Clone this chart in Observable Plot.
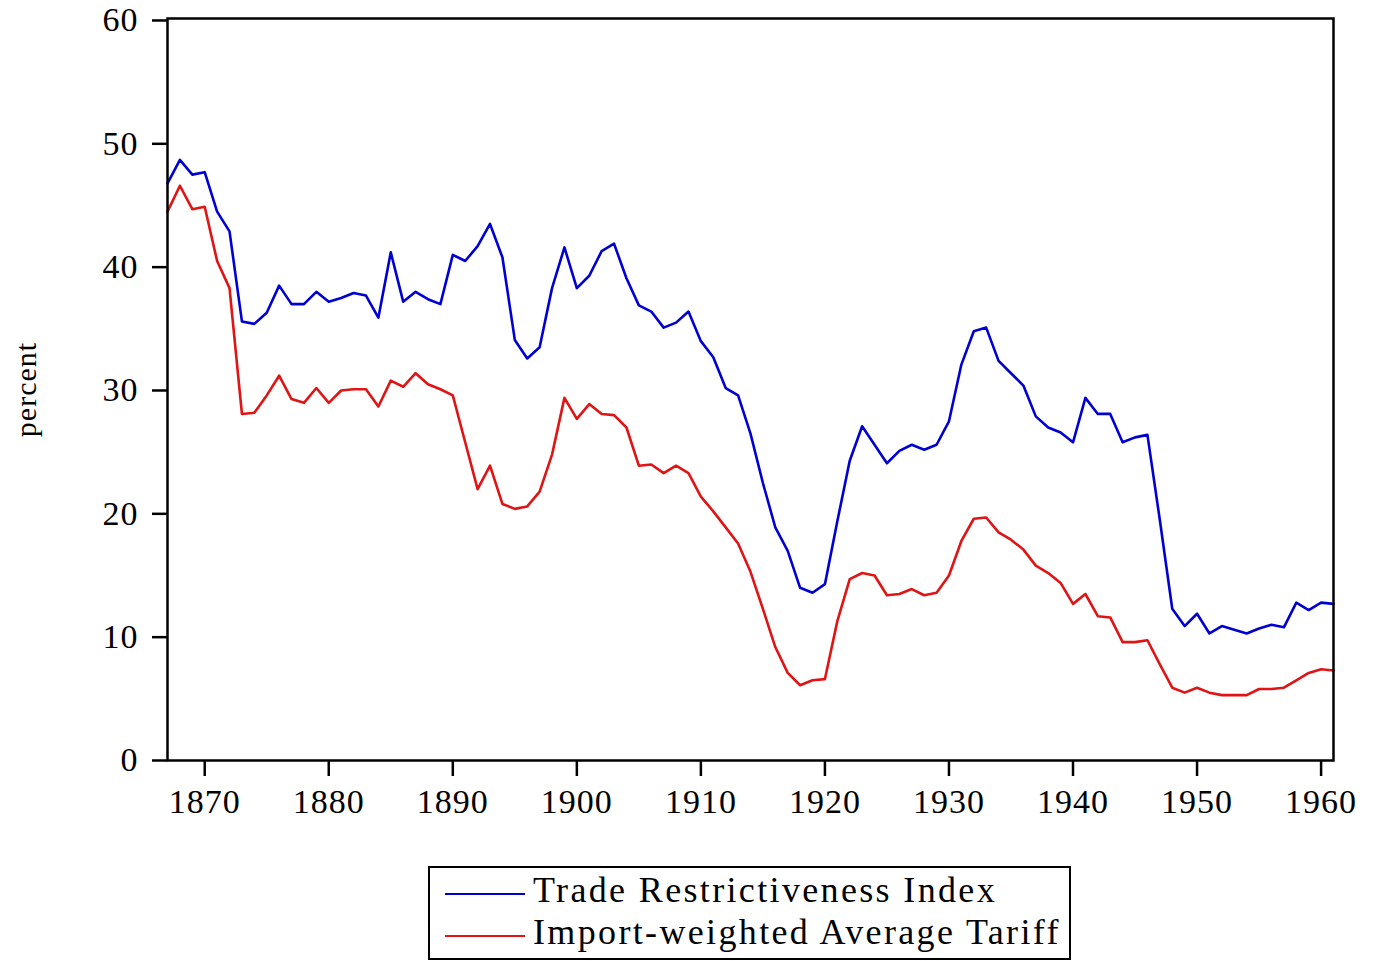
<!DOCTYPE html>
<html>
<head>
<meta charset="utf-8">
<script src="https://cdn.jsdelivr.net/npm/d3@7"></script>
<script src="https://cdn.jsdelivr.net/npm/@observablehq/plot@0.6"></script>
<style>
  html, body { margin: 0; padding: 0; background: white; overflow: hidden; }
  #chart { position: absolute; left: 0; top: 0; }
  #legend {
    position: absolute; left: 428px; top: 866px; width: 643px; height: 94px;
    box-sizing: border-box; border: 2px solid black; background: white;
    font-family: "Liberation Serif", "Times New Roman", serif; font-size: 36px;
    letter-spacing: 2.35px; padding-top: 1px;
  }
  .row { height: 42px; line-height: 42px; white-space: nowrap; }
  .sw { display: inline-block; width: 80px; height: 2px; margin-left: 15px; margin-right: 8px; vertical-align: middle; }
</style>
</head>
<body>
<div id="chart"></div>
<div id="legend"></div>
<script>
const years = d3.range(1867, 1962);
const seriesNames = ["Trade Restrictiveness Index", "Import-weighted Average Tariff"];
const seriesColors = ["#0000d2", "#e01414"];
const tri = [
  46.8, 48.7, 47.5, 47.7, 44.5, 42.9, 35.6, 35.4, 36.3, 38.5,
  37.0, 37.0, 38.0, 37.2, 37.5, 37.9, 37.7, 35.9, 41.2, 37.2,
  38.0, 37.4, 37.0, 41.0, 40.5, 41.7, 43.5, 40.8, 34.1, 32.6,
  33.5, 38.3, 41.6, 38.3, 39.3, 41.3, 41.9, 39.1, 36.9, 36.4,
  35.1, 35.5, 36.4, 34.0, 32.7, 30.2, 29.6, 26.5, 22.5, 18.9,
  17.0, 14.0, 13.6, 14.3, 19.4, 24.3, 27.1, 25.6, 24.1, 25.1,
  25.6, 25.2, 25.6, 27.5, 32.1, 34.8, 35.1, 32.4, 31.4, 30.4,
  27.9, 27.0, 26.6, 25.8, 29.4, 28.1, 28.1, 25.8, 26.2, 26.4,
  19.5, 12.3, 10.9, 11.9, 10.3, 10.9, 10.6, 10.3, 10.7, 11.0,
  10.8, 12.8, 12.2, 12.8, 12.7
];
const tariff = [
  44.5, 46.6, 44.7, 44.9, 40.5, 38.3, 28.1, 28.2, 29.6, 31.2,
  29.3, 29.0, 30.2, 29.0, 30.0, 30.1, 30.1, 28.7, 30.8, 30.3,
  31.4, 30.5, 30.1, 29.6, 25.8, 22.0, 23.9, 20.8, 20.4, 20.6,
  21.8, 24.8, 29.4, 27.7, 28.9, 28.1, 28.0, 27.0, 23.9, 24.0,
  23.3, 23.9, 23.3, 21.4, 20.2, 18.9, 17.6, 15.3, 12.3, 9.2,
  7.1, 6.1, 6.5, 6.6, 11.3, 14.7, 15.2, 15.0, 13.4, 13.5,
  13.9, 13.4, 13.6, 15.0, 17.8, 19.6, 19.7, 18.5, 17.9, 17.1,
  15.8, 15.2, 14.4, 12.7, 13.5, 11.7, 11.6, 9.6, 9.6, 9.75,
  7.8, 5.9, 5.5, 5.9, 5.5, 5.3, 5.3, 5.3, 5.8, 5.8,
  5.9, 6.5, 7.1, 7.4, 7.3
];
const xTicks = [1870, 1880, 1890, 1900, 1910, 1920, 1930, 1940, 1950, 1960];
const yTicks = [0, 10, 20, 30, 40, 50, 60];
const yLabel = "percent";

const triData = years.map((year, i) => ({year, value: tri[i]}));
const tariffData = years.map((year, i) => ({year, value: tariff[i]}));

const chart = Plot.plot({
  width: 1375,
  height: 862,
  marginLeft: 167,
  marginRight: 42,
  marginTop: 18,
  marginBottom: 102,
  x: {domain: [1867, 1961]},
  y: {domain: [0, 60.16]},
  style: {
    fontFamily: "'Liberation Serif', 'Times New Roman', serif",
    fontSize: "34px",
    color: "black",
    background: "white",
    overflow: "visible",
    letterSpacing: "1px"
  },
  marks: [
    Plot.axisY({ticks: yTicks, tickSize: 15, tickPadding: 14, label: null, tickFormat: d => String(d), strokeWidth: 2.5, fontSize: 34}),
    Plot.axisX({ticks: xTicks, tickSize: 16, tickPadding: 12, label: null, tickFormat: d => String(d), strokeWidth: 2.5, fontSize: 34}),
    Plot.line(triData, {x: "year", y: "value", stroke: seriesColors[0], strokeWidth: 2.6}),
    Plot.line(tariffData, {x: "year", y: "value", stroke: seriesColors[1], strokeWidth: 2.6}),
    Plot.frame({stroke: "black", strokeWidth: 2.5}),
    Plot.text([yLabel], {frameAnchor: "left", textAnchor: "middle", dx: -141, rotate: -90, fontSize: 30, letterSpacing: 0})
  ]
});
document.getElementById("chart").appendChild(chart);

const legend = document.getElementById("legend");
seriesNames.forEach((name, i) => {
  const row = document.createElement("div");
  row.className = "row";
  const sw = document.createElement("span");
  sw.className = "sw";
  sw.style.background = seriesColors[i];
  row.appendChild(sw);
  const t = document.createElement("span");
  t.textContent = name;
  row.appendChild(t);
  legend.appendChild(row);
});
</script>
</body>
</html>
